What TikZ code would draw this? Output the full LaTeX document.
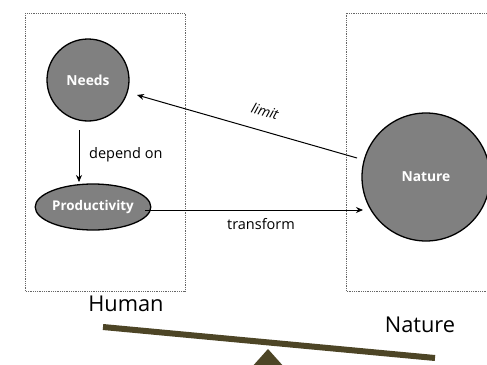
\documentclass[tikz,border=0pt]{standalone}
\usepackage{fontspec}
\setmainfont{Open Sans}
\usetikzlibrary{arrows.meta,shapes.geometric}
\definecolor{beam}{HTML}{4D4526}
\begin{document}
\begin{tikzpicture}[x=1pt,y=-1pt,
  box/.style={draw=black!60,densely dotted,line width=0.8pt},
  bubble/.style={draw=black,line width=1.3pt,fill=black!50,text=white,font=\bfseries\fontsize{13.8}{15}\selectfont,inner sep=0pt},
  conn/.style={draw=black,line width=1pt,-{Stealth[length=7pt,width=6pt]}},
  lbl/.style={font=\fontsize{14.5}{16}\selectfont,inner sep=1pt},
  big/.style={font=\fontsize{21.8}{25}\selectfont}]
\useasboundingbox (0,0) rectangle (487,364);
\draw[box] (25,13) rectangle (185,291);
\draw[box] (492,13) -- (346,13) -- (346,291) -- (492,291);
\node[bubble,circle,minimum size=82pt] (needs) at (88,80) {Needs};
\node[bubble,ellipse,minimum width=103pt,minimum height=46pt] (prod) at (93,207) {\fontsize{13.4}{15}\selectfont Productivity};
\node[bubble,circle,minimum size=128pt] (nature) at (426,177) {Nature};
\coordinate (d1) at (79,130);
\coordinate (d2) at (79,182);
\draw[conn,line width=0.7pt] (d1) -- (d2);
\node[lbl,anchor=west] (dep) at (88,155) {depend on};
\coordinate (l1) at (357,158);
\coordinate (l2) at (137,95);
\draw[conn] (l1) -- (l2);
\node[lbl,font=\itshape\fontsize{14}{16}\selectfont,rotate=-17] (lim) at (265,111) {limit};
\coordinate (t1) at (145,210);
\coordinate (t2) at (363,210);
\draw[conn] (t1) -- (t2);
\node[lbl] (tr) at (261,224) {transform};
\node[big] (hum) at (126,304) {Human};
\node[big] (nat) at (420,325) {Nature};
\coordinate (s1) at (103,327);
\coordinate (s2) at (435,358);
\draw[beam,line width=6pt] (s1) -- (s2);
\fill[beam] (268,349) coordinate (apex) -- (285,368) -- (251,368) -- cycle;
\end{tikzpicture}
\end{document}
